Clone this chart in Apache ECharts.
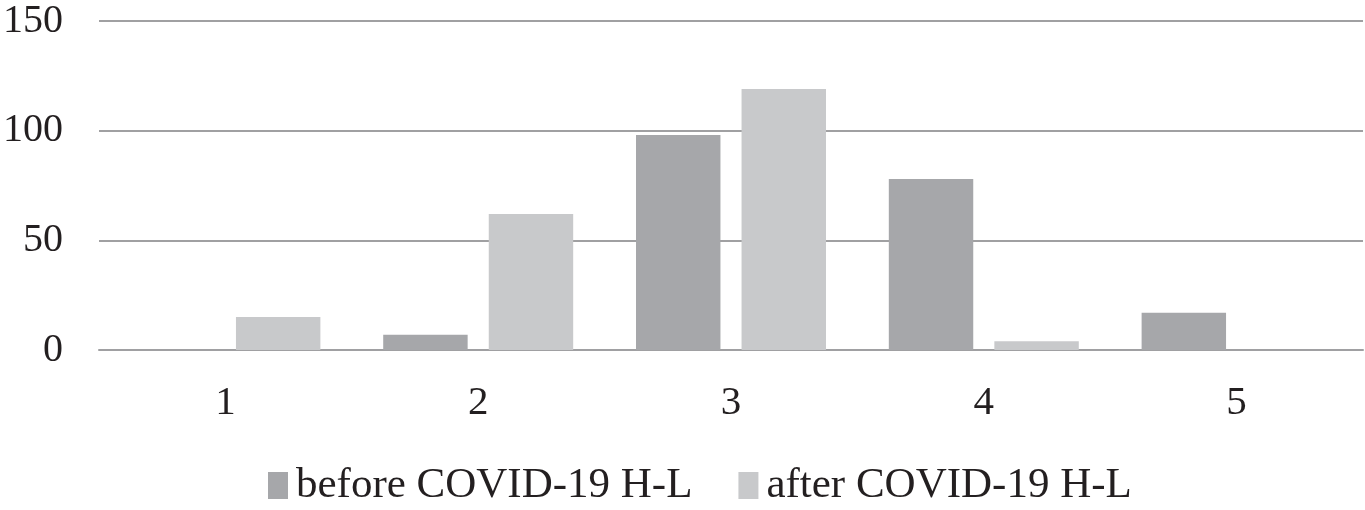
<!DOCTYPE html>
<html><head><meta charset="utf-8">
<script src="https://cdn.jsdelivr.net/npm/echarts@6/dist/echarts.min.js"></script>
<style>html,body{margin:0;padding:0;background:#fff}#c{width:1365px;height:510px}</style>
</head><body><div id="c"></div>
<script>
const categories = ['1', '2', '3', '4', '5'];
const beforeValues = [0, 7, 98, 78, 17];
const afterValues = [15, 62, 119, 4, 0];
const yTicks = [0, 50, 100, 150];

const font = '"Liberation Serif", "Times New Roman", serif';
const chart = echarts.init(document.getElementById('c'));
chart.setOption({
  animation: false,
  grid: { left: 98, right: 2, top: 21, bottom: 160 },
  legend: {
    bottom: -2, left: 263,
    itemWidth: 20, itemHeight: 27, itemGap: 46,
    icon: 'rect',
    textStyle: { fontFamily: font, fontSize: 43, color: '#231f20', padding: [0, 0, 0, 3] },
    data: ['before COVID-19 H-L', 'after COVID-19 H-L']
  },
  xAxis: {
    type: 'category', data: categories,
    axisLine: { lineStyle: { color: '#a0a0a2', width: 2 } },
    axisTick: { show: false },
    axisLabel: { fontFamily: font, fontSize: 41, color: '#231f20', margin: 33 }
  },
  yAxis: {
    type: 'value', min: 0, max: 150, interval: 50,
    axisLine: { show: false }, axisTick: { show: false },
    splitLine: { lineStyle: { color: '#a0a0a2', width: 2 } },
    axisLabel: { fontFamily: font, fontSize: 40, color: '#231f20', margin: 36 }
  },
  series: [
    { name: 'before COVID-19 H-L', type: 'bar', data: beforeValues, barWidth: '33.4%', barGap: '25%',
      itemStyle: { color: '#a6a7aa' } },
    { name: 'after COVID-19 H-L', type: 'bar', data: afterValues, barWidth: '33.4%', barGap: '25%',
      itemStyle: { color: '#c8c9cb' } }
  ]
});
</script></body></html>
